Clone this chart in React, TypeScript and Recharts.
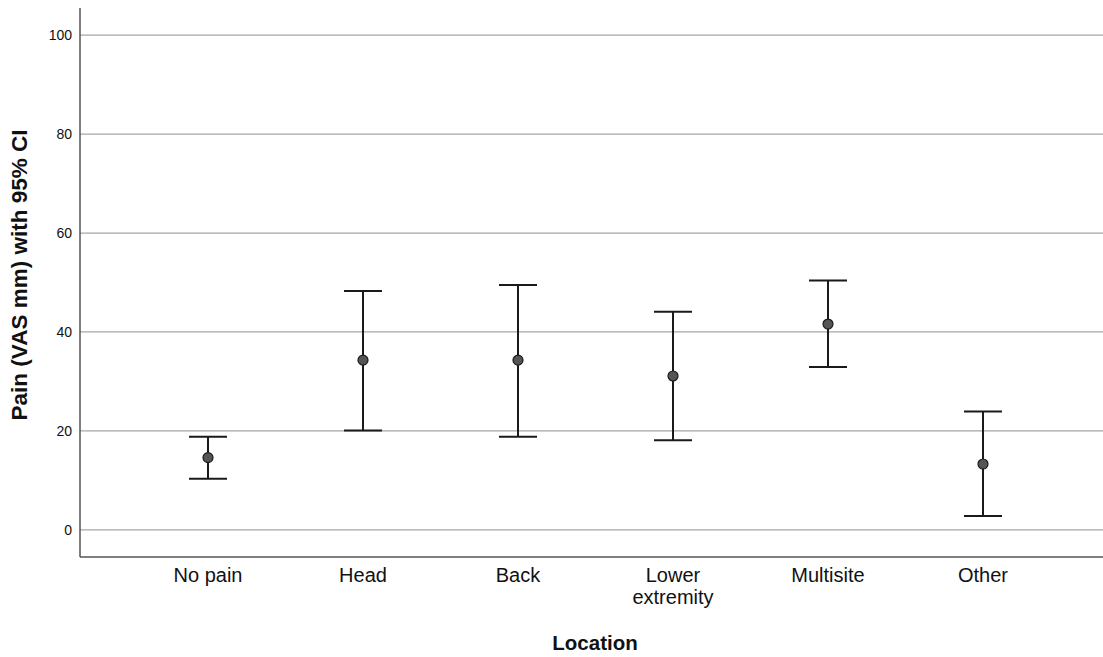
import React from 'react';
import {
  ComposedChart,
  Scatter,
  ErrorBar,
  CartesianGrid,
  XAxis,
  YAxis,
  Label,
} from 'recharts';

const locations = ['No pain', 'Head', 'Back', 'Lower extremity', 'Multisite', 'Other'];
const means = [14.6, 34.3, 34.3, 31.1, 41.6, 13.3];
const lowerCI = [10.3, 20.1, 18.8, 18.1, 32.9, 2.8];
const upperCI = [18.8, 48.3, 49.5, 44.1, 50.4, 23.9];
const yTicks = [0, 20, 40, 60, 80, 100];

const data = locations.map((name, i) => ({
  name,
  mean: means[i],
  ci: [means[i] - lowerCI[i], upperCI[i] - means[i]],
}));

const font = 'Liberation Sans, Arial, sans-serif';

function LocationTick({ x, y, payload }: any) {
  const words = String(payload.value);
  const lines = words.length > 10 ? words.split(' ') : [words];
  return (
    <text x={x} y={y + 17} textAnchor="middle" fontSize={20} fontFamily={font} fill="#111">
      {lines.map((l, i) => (
        <tspan key={i} x={x} dy={i === 0 ? 0 : 22}>
          {l}
        </tspan>
      ))}
    </text>
  );
}

function Dot({ cx, cy }: any) {
  return <circle cx={cx} cy={cy} r={5} fill="#555" stroke="#1a1a1a" strokeWidth={1.2} />;
}

export default function App() {
  return (
    <div style={{ position: 'absolute', left: 0, top: 0, background: '#fff' }}>
      <ComposedChart
        width={1103}
        height={657}
        data={data}
        margin={{ top: 8, right: 0, bottom: 0, left: 0 }}
      >
        <CartesianGrid
          vertical={false}
          horizontalValues={yTicks}
          stroke="#a6a6a6"
          strokeWidth={1.3}
        />
        <XAxis
          dataKey="name"
          type="category"
          height={100}
          padding={{ left: 128, right: 120 }}
          tickLine={false}
          axisLine={{ stroke: '#555', strokeWidth: 1.5 }}
          tick={<LocationTick />}
          interval={0}
        >
          <Label
            content={() => (
              <text x={595} y={650} textAnchor="middle" fontSize={20.5} fontWeight="bold" fontFamily={font} fill="#111">
                Location
              </text>
            )}
          />
        </XAxis>
        <YAxis
          width={80}
          domain={[-5.5, 105.5]}
          ticks={yTicks}
          tickLine={false}
          axisLine={{ stroke: '#555', strokeWidth: 1.5 }}
          tick={{ fontSize: 14, fontFamily: font, fill: '#111' }}
          allowDataOverflow
        >
          <Label
            content={() => (
              <text
                x={19}
                y={275}
                transform="rotate(-90 19 275)"
                textAnchor="middle"
                dominantBaseline="central"
                fontSize={22.5}
                fontWeight="bold"
                fontFamily={font}
                fill="#111"
              >
                Pain (VAS mm) with 95% CI
              </text>
            )}
          />
        </YAxis>
        <Scatter dataKey="mean" shape={<Dot />} isAnimationActive={false}>
          <ErrorBar dataKey="ci" direction="y" width={19} stroke="#1a1a1a" strokeWidth={2} />
        </Scatter>
      </ComposedChart>
    </div>
  );
}
